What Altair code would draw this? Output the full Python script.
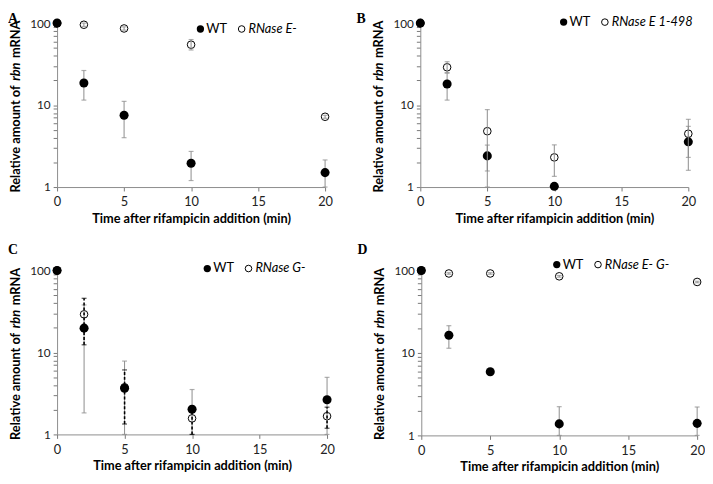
import altair as alt
import pandas as pd

times = [0, 2, 5, 10, 20]

# Panel A
a_wt = [100, 18.6, 7.5, 1.95, 1.5]
a_wt_lo = [100, 11.5, 4.0, 1.2, 1.0]
a_wt_hi = [100, 26.4, 11.1, 2.72, 2.14]
a_mut = [100, 95.5, 86, 54.5, 7.2]
a_mut_lo = [100, 91, 82, 47, 6.9]
a_mut_hi = [100, 100, 90, 63, 7.5]

# Panel B
b_wt = [100, 18.1, 2.4, 1.02, 3.56]
b_wt_lo = [100, 11.5, 1.57, 1.02, 1.6]
b_wt_hi = [100, 24.5, 3.25, 1.02, 5.5]
b_mut = [100, 28.9, 4.8, 2.3, 4.47]
b_mut_lo = [100, 24.9, 1.0, 1.35, 2.3]
b_mut_hi = [100, 33.8, 8.8, 3.27, 6.7]

# Panel C
c_wt = [100, 19.8, 3.66, 2.03, 2.65]
c_wt_lo = [100, 1.83, 1.0, 1.0, 1.0]
c_wt_hi = [100, 38, 7.85, 3.53, 4.97]
c_mut = [100, 29.2, 3.76, 1.57, 1.67]
c_mut_lo = [100, 12.4, 1.34, 1.0, 1.19]
c_mut_hi = [100, 45.8, 6.12, 2.2, 2.15]

# Panel D
d_wt = [100, 16.4, 5.92, 1.38, 1.40]
d_wt_lo = [100, 11.4, 5.92, 1.0, 1.0]
d_wt_hi = [100, 21.4, 5.92, 2.23, 2.21]
d_mut = [100, 92, 92, 85, 72.6]
d_mut_lo = [100, 90, 90, 83, 71]
d_mut_hi = [100, 94, 94, 87, 74]

y_title_parts = ["Relative amount of", "rbn", "mRNA"]

FONT = "Lato"
GREY = "#8c8c8c"


def frame(v, lo, hi):
    return pd.DataFrame({"t": times, "v": v, "lo": lo, "hi": hi})


def err_frame(v, lo, hi):
    df = frame(v, lo, hi)
    return df[df["lo"] < df["hi"]]


def panel(letter, wt, wt_lo, wt_hi, mut, mut_lo, mut_hi, mut_label, leg,
          width, height, letter_x, letter_y, mut_dashed=False):
    xs = alt.Scale(domain=[0, 20], nice=False, zero=False)
    ys = alt.Scale(type="log", domain=[1, 100], nice=False)
    xax = alt.Axis(values=[0, 5, 10, 15, 20], grid=False, title="Time after rifampicin addition (min)",
                   labelFontSize=13, labelFlush=False, labelPadding=5)
    yax = alt.Axis(values=[1, 2, 3, 4, 5, 6, 7, 8, 9, 10, 20, 30, 40, 50, 60, 70, 80, 90, 100],
                   labelExpr="datum.value == 1 ? '1' : datum.value == 10 ? '10' : datum.value == 100 ? '100' : ''",
                   grid=False, title=None, labelFontSize=12, labelFlush=False, labelOverlap=False)
    X = alt.X("t:Q", scale=xs, axis=xax)
    Y = alt.Y("v:Q", scale=ys, axis=yax)

    wt_df = frame(wt, wt_lo, wt_hi)
    mut_df = frame(mut, mut_lo, mut_hi)
    wt_err = err_frame(wt, wt_lo, wt_hi)
    mut_err = err_frame(mut, mut_lo, mut_hi)

    def errs(df, color, dashed):
        kw = dict(color=color, strokeWidth=1)
        if dashed:
            kw = dict(color="black", strokeWidth=1.6, strokeDash=[3, 2])
        rule = alt.Chart(df).mark_rule(**kw).encode(
            x=alt.X("t:Q", scale=xs), y=alt.Y("lo:Q", scale=ys), y2="hi:Q")
        cap_color = "black" if dashed else color
        cap_lo = alt.Chart(df).mark_tick(orient="horizontal", size=5, thickness=1.2, color=cap_color).encode(
            x=alt.X("t:Q", scale=xs), y=alt.Y("lo:Q", scale=ys))
        cap_hi = alt.Chart(df).mark_tick(orient="horizontal", size=5, thickness=1.2, color=cap_color).encode(
            x=alt.X("t:Q", scale=xs), y=alt.Y("hi:Q", scale=ys))
        return [rule, cap_lo, cap_hi]

    mut_pts = alt.Chart(mut_df).mark_point(filled=False, size=60, color="black", strokeWidth=1, opacity=1).encode(x=X, y=Y)
    wt_pts = alt.Chart(wt_df).mark_point(filled=True, size=85, color="black", opacity=1).encode(x=X, y=Y)

    one = pd.DataFrame({"k": [0]})
    lx, ly = leg
    legend = [
        alt.Chart(one).mark_point(filled=True, size=55, color="black", opacity=1).encode(
            x=alt.value(lx), y=alt.value(ly)),
        alt.Chart(one).mark_text(align="left", baseline="middle", font=FONT, fontSize=13, color="black").encode(
            x=alt.value(lx + 6), y=alt.value(ly), text=alt.value("WT")),
        alt.Chart(one).mark_point(filled=False, size=45, color="black", strokeWidth=1, opacity=1).encode(
            x=alt.value(lx + 42), y=alt.value(ly)),
        alt.Chart(one).mark_text(align="left", baseline="middle", font=FONT, fontSize=13, fontStyle="italic",
                                 color="black").encode(
            x=alt.value(lx + 49), y=alt.value(ly), text=alt.value(mut_label)),
        alt.Chart(one).mark_text(align="left", baseline="top", font="Liberation Serif", fontSize=14,
                                 fontWeight="bold", color="black").encode(
            x=alt.value(letter_x), y=alt.value(letter_y), text=alt.value(letter)),
    ]

    # y-axis title in three pieces so that "rbn" can be italic
    tx = -42
    c = 49.5          # centre of the italic word, measured from the plot top
    half = 10.5       # half width of "rbn"
    gap = 3.5
    ytitle = [
        alt.Chart(one).mark_text(align="right", baseline="middle", angle=270, font=FONT, fontSize=13,
                                 fontWeight="bold", color="black").encode(
            x=alt.value(tx), y=alt.value(c + half + gap), text=alt.value(y_title_parts[0])),
        alt.Chart(one).mark_text(align="center", baseline="middle", angle=270, font=FONT, fontSize=13,
                                 fontWeight="bold", fontStyle="italic", color="black").encode(
            x=alt.value(tx), y=alt.value(c), text=alt.value(y_title_parts[1])),
        alt.Chart(one).mark_text(align="left", baseline="middle", angle=270, font=FONT, fontSize=13,
                                 fontWeight="bold", color="black").encode(
            x=alt.value(tx), y=alt.value(c - half - gap), text=alt.value(y_title_parts[2])),
    ]

    layers = [mut_pts] + errs(wt_err, GREY, False) + [wt_pts] + errs(mut_err, GREY, mut_dashed) + legend + ytitle
    return alt.layer(*layers).properties(width=width, height=height)


pa = panel("A", a_wt, a_wt_lo, a_wt_hi, a_mut, a_mut_lo, a_mut_hi, "RNase E-", (146, 6), 273, 167, -50, -11)
pb = panel("B", b_wt, b_wt_lo, b_wt_hi, b_mut, b_mut_lo, b_mut_hi, "RNase E 1-498", (146, -1), 273, 167, -65, -11)
pc = panel("C", c_wt, c_wt_lo, c_wt_hi, c_mut, c_mut_lo, c_mut_hi, "RNase G-", (153, -2), 275, 167, -50, -28,
           mut_dashed=True)
pd_ = panel("D", d_wt, d_wt_lo, d_wt_hi, d_mut, d_mut_lo, d_mut_hi, "RNase E- G-", (138, -6), 281, 168, -65, -28)

chart = alt.vconcat(
    alt.hconcat(pa, pb, spacing=24),
    alt.hconcat(pc, pd_, spacing=23),
    spacing=18,
).properties(padding=0).configure_view(stroke=None).configure_axis(
    domainColor=GREY, tickColor="#777", tickWidth=1, tickSize=4, labelFont=FONT, labelColor="#222",
    labelPadding=3, titleFont=FONT, titleFontSize=13, titleFontWeight="bold", titleColor="black",
    titlePadding=4,
)

chart.save("out.html", embed_options={"renderer": "svg", "actions": False})
